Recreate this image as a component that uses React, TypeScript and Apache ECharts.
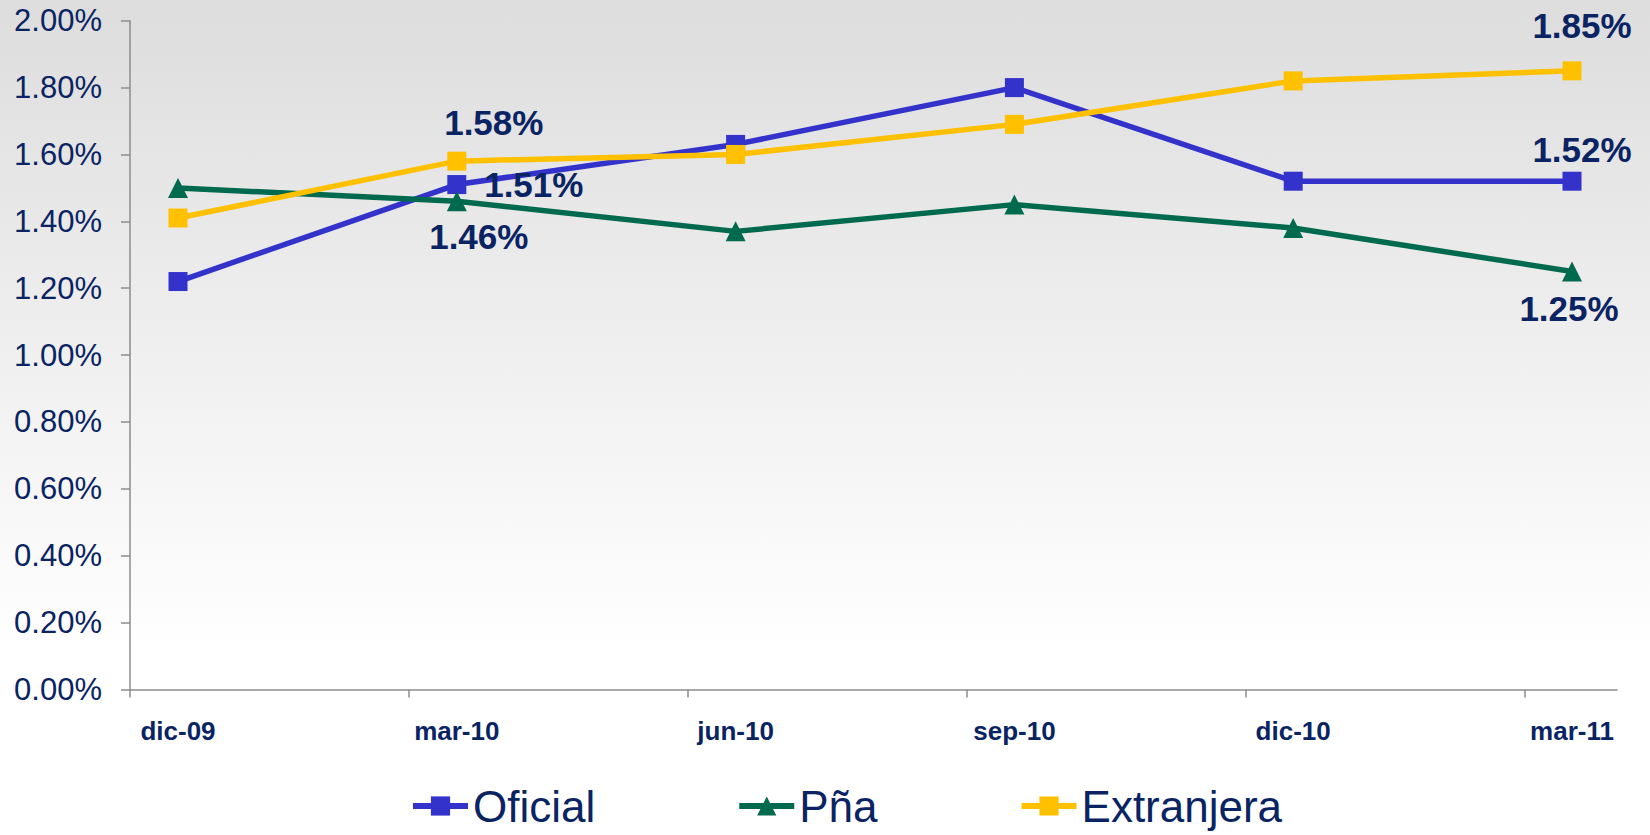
import React, { useEffect, useRef } from "react";
import * as echarts from "echarts";

const categories = ["dic-09", "mar-10", "jun-10", "sep-10", "dic-10", "mar-11"];
const oficial = [1.22, 1.51, 1.63, 1.8, 1.52, 1.52];
const pna = [1.5, 1.46, 1.37, 1.45, 1.38, 1.25];
const extranjera = [1.41, 1.58, 1.6, 1.69, 1.82, 1.85];
const yTicks = [0, 0.2, 0.4, 0.6, 0.8, 1.0, 1.2, 1.4, 1.6, 1.8, 2.0];

const NAVY = "#0a2463";
const AXIS = "#8c8c8c";
const FONT = "Liberation Sans, Arial, sans-serif";

// label offsets (style) per series, index -> [dx, dy]
const labelOffsets: Record<string, Record<number, [number, number]>> = {
  Oficial: { 1: [77, 0], 5: [10, -32] },
  "Pña": { 1: [22, 35], 5: [-3, 37] },
  Extranjera: { 1: [37, -39], 5: [10, -45] },
};

function buildData(name: string, values: number[]) {
  const offs = labelOffsets[name] || {};
  return values.map((v, i) => {
    const off = offs[i];
    if (!off) return { value: v };
    return {
      value: v,
      label: {
        show: true,
        position: "inside",
        offset: off,
        formatter: (p: any) => p.value.toFixed(2) + "%",
        color: NAVY,
        fontSize: 35,
        fontWeight: "bold",
        fontFamily: FONT,
      },
    };
  });
}

export default function App() {
  const ref = useRef<HTMLDivElement>(null);
  useEffect(() => {
    if (!ref.current) return;
    const chart = echarts.init(ref.current, undefined, { renderer: "svg" });
    const yMax = yTicks[yTicks.length - 1];
    const yInterval = yTicks[1] - yTicks[0];
    const frameMax = 5.33;
    chart.setOption({
      animation: false,
      backgroundColor: new echarts.graphic.LinearGradient(0, 0, 0, 1, [
        { offset: 0, color: "#dddddd" },
        { offset: 0.78, color: "#ffffff" },
        { offset: 1, color: "#ffffff" },
      ]),
      textStyle: { fontFamily: FONT },
      grid: [
        { left: 130, right: 33, top: 20.7, bottom: 145.5 },
        { left: 178, right: 78, top: 20.7, bottom: 145.5 },
      ],
      xAxis: [
        {
          type: "value",
          gridIndex: 0,
          min: 0,
          max: frameMax,
          axisLine: { show: true, lineStyle: { color: AXIS, width: 1.5 } },
          axisTick: {
            show: true,
            length: 8,
            lineStyle: { color: AXIS, width: 1.5 },
            customValues: categories.map((_, i) => i),
          },
          axisLabel: { show: false },
          splitLine: { show: false },
        },
        {
          type: "category",
          gridIndex: 1,
          data: categories,
          boundaryGap: false,
          axisLine: { show: false },
          axisTick: { show: false },
          axisLabel: {
            color: NAVY,
            fontSize: 26,
            fontWeight: "bold",
            margin: 28,
            fontFamily: FONT,
          },
          splitLine: { show: false },
        },
      ],
      yAxis: [
        {
          type: "value",
          gridIndex: 0,
          min: 0,
          max: yMax,
          interval: yInterval,
          axisLine: { show: true, lineStyle: { color: AXIS, width: 1.5 } },
          axisTick: { show: true, length: 9, lineStyle: { color: AXIS, width: 1.5 } },
          axisLabel: {
            color: NAVY,
            fontSize: 31,
            margin: 28,
            formatter: (v: number) => v.toFixed(2) + "%",
            fontFamily: FONT,
          },
          splitLine: { show: false },
        },
        {
          type: "value",
          gridIndex: 1,
          min: 0,
          max: yMax,
          interval: yInterval,
          show: false,
          splitLine: { show: false },
        },
      ],
      legend: {
        left: 405,
        top: 778,
        itemWidth: 55,
        itemHeight: 24,
        itemGap: 141,
        lineStyle: { width: 6 },
        textStyle: {
          color: NAVY,
          fontSize: 44,
          lineHeight: 46,
          fontFamily: FONT,
        },
        data: ["Oficial", "Pña", "Extranjera"],
      },
      series: [
        {
          name: "Oficial",
          type: "line",
          xAxisIndex: 1,
          yAxisIndex: 1,
          data: buildData("Oficial", oficial),
          symbol: "rect",
          symbolSize: 19,
          lineStyle: { color: "#3333cc", width: 5.5 },
          itemStyle: { color: "#3333cc" },
        },
        {
          name: "Pña",
          type: "line",
          xAxisIndex: 1,
          yAxisIndex: 1,
          data: buildData("Pña", pna),
          symbol: "triangle",
          symbolSize: 20,
          lineStyle: { color: "#006a4e", width: 5.5 },
          itemStyle: { color: "#006a4e" },
        },
        {
          name: "Extranjera",
          type: "line",
          xAxisIndex: 1,
          yAxisIndex: 1,
          data: buildData("Extranjera", extranjera),
          symbol: "rect",
          symbolSize: 19,
          lineStyle: { color: "#ffc000", width: 5.5 },
          itemStyle: { color: "#ffc000" },
        },
      ],
    });
    return () => chart.dispose();
  }, []);
  return (
    <div
      ref={ref}
      style={{ position: "fixed", left: 0, top: 0, width: 1650, height: 835 }}
    />
  );
}
